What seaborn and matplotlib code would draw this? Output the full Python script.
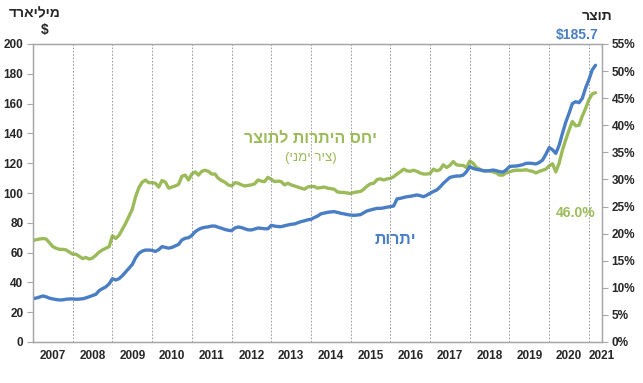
import numpy as np
import pandas as pd
import matplotlib
matplotlib.use("Agg")
import matplotlib.pyplot as plt
import seaborn as sns

# ---- data (monthly, Jan 2007 - Mar 2021) ----
start_year = 2007
reserves_bn = [
    29.1, 29.5, 30.2, 30.9, 30.3, 29.4, 28.9, 28.5, 28.2, 28.3, 28.7, 28.9,
    28.9, 28.7, 28.8, 29.0, 29.6, 30.4, 31.2, 32.0, 34.5, 35.8, 37.0, 39.0,
    42.5, 41.6, 42.5, 44.5, 47.0, 49.5, 52.0, 56.5, 59.5, 61.0, 61.7, 61.7,
    61.5, 60.8, 62.0, 64.0, 63.5, 63.0, 63.5, 64.5, 65.5, 68.5, 69.6, 70.0,
    71.5, 74.0, 75.5, 76.5, 77.0, 77.3, 77.8, 77.8, 77.0, 76.3, 75.5, 75.0,
    74.7, 76.5, 77.2, 76.8, 76.0, 75.3, 75.2, 75.8, 76.5, 76.3, 76.0, 76.0,
    78.3, 77.8, 77.5, 77.4, 78.0, 78.5, 79.0, 79.2, 80.0, 80.8, 81.3, 82.0,
    82.3, 83.5, 84.5, 86.0, 86.5, 87.0, 87.3, 87.5, 87.0, 86.4, 86.0, 85.5,
    85.2, 85.0, 85.2, 85.5, 86.8, 88.0, 88.6, 89.2, 89.7, 89.7, 90.0, 90.5,
    90.8, 91.3, 96.0, 96.4, 97.0, 97.5, 97.8, 98.2, 98.7, 98.2, 97.5, 98.5,
    99.8, 101.0, 102.0, 104.0, 106.5, 108.5, 110.5, 111.0, 111.4, 111.4, 112.0, 114.3,
    117.7, 116.5, 115.9, 115.5, 115.0, 114.8, 115.0, 115.4, 115.0, 114.3, 114.0, 115.5,
    117.7, 118.0, 118.1, 118.5, 119.0, 119.9, 120.0, 119.8, 119.5, 120.5, 122.1, 126.0,
    130.5, 129.0, 126.6, 132.0, 140.0, 147.5, 153.5, 160.0, 161.3, 160.6, 163.5, 170.5,
    176.0, 182.6, 185.7,
]
ratio_pct = [
    18.7, 18.9, 19.0, 19.1, 19.0, 18.3, 17.6, 17.3, 17.1, 17.1, 17.0, 16.6,
    16.2, 16.2, 15.8, 15.4, 15.6, 15.3, 15.5, 16.0, 16.6, 17.0, 17.3, 17.6,
    19.6, 19.1, 19.7, 20.8, 21.9, 23.2, 24.5, 26.8, 28.5, 29.5, 29.9, 29.4,
    29.4, 29.3, 28.6, 29.8, 29.5, 28.4, 28.6, 28.8, 29.1, 30.6, 30.8, 29.9,
    31.0, 31.4, 30.8, 31.5, 31.7, 31.5, 31.0, 31.0, 30.2, 29.8, 29.5, 29.0,
    28.8, 29.4, 29.3, 29.0, 28.8, 28.9, 29.0, 29.2, 29.9, 29.7, 29.6, 30.4,
    30.0, 29.6, 29.7, 29.6, 29.0, 29.3, 29.0, 28.8, 28.6, 28.4, 28.2, 28.6,
    28.7, 28.7, 28.4, 28.5, 28.6, 28.4, 28.3, 28.2, 27.7, 27.6, 27.6, 27.5,
    27.4, 27.6, 27.7, 27.8, 28.2, 28.8, 29.2, 29.3, 30.0, 30.1, 29.9, 30.1,
    30.2, 30.5, 31.0, 31.4, 31.9, 31.6, 31.5, 31.7, 31.5, 31.2, 31.0, 31.0,
    31.1, 31.9, 31.6, 31.8, 32.7, 32.2, 32.6, 33.3, 32.7, 32.6, 32.6, 32.2,
    33.4, 33.0, 32.2, 31.9, 31.6, 31.6, 31.6, 31.4, 31.2, 30.8, 30.8, 31.2,
    31.4, 31.6, 31.7, 31.7, 31.7, 31.8, 31.6, 31.5, 31.2, 31.5, 31.7, 31.9,
    32.5, 32.9, 31.4, 33.0, 35.4, 37.3, 39.1, 40.7, 39.9, 40.0, 41.7, 43.1,
    44.7, 45.8, 46.0,
]
years = list(range(2007, 2022))
left_ticks = list(range(0, 201, 20))
right_ticks = list(range(0, 56, 5))

label_units_left = ["מיליארד", "$"]
label_units_right = "תוצר"
label_ratio = "יחס היתרות לתוצר"
label_ratio_sub = "(ציר ימני)"
label_reserves = "יתרות"
label_last_res = "$185.7"
label_last_ratio = "46.0%"


def rtl(s):
    mirror = {"(": ")", ")": "("}
    return "".join(mirror.get(c, c) for c in s[::-1])


n = len(reserves_bn)
t = [start_year + i / 12 for i in range(n)]
df = pd.DataFrame({"t": t, "reserves": reserves_bn, "ratio": ratio_pct})

BLUE = "#4a7ec4"
GREEN = "#9bbb59"
AXC = "#a6a6a6"
FAM = ["Liberation Sans", "DejaVu Sans"]

sns.set_style("white")
plt.rcParams["font.family"] = FAM

fig = plt.figure(figsize=(6.43, 3.83), dpi=100)
ax = fig.add_axes([33 / 643, 1 - 342 / 383, (602 - 33) / 643, (342 - 44) / 383])
ax2 = ax.twinx()

xmax = start_year + 170.7 / 12
sns.lineplot(data=df, x="t", y="ratio", ax=ax2, color=GREEN, linewidth=2.4)
sns.lineplot(data=df, x="t", y="reserves", ax=ax, color=BLUE, linewidth=2.4)
ax.set_zorder(ax2.get_zorder() + 1)
ax.patch.set_visible(False)

ax.set_xlim(start_year, xmax)
ax.set_ylim(0, 200)
ax2.set_ylim(0, 55)

for y in years[1:]:
    ax.axvline(y, color="#8c8c8c", linewidth=0.6, linestyle=(0, (2, 2)), zorder=0)

ax.set_xticks(years)
ax.set_xticklabels([])
ax.set_xticks([y + 0.5 for y in years[:-1]] + [2021.33], minor=True)
ax.set_xticklabels([str(y) for y in years], minor=True)
ax.tick_params(axis="x", which="minor", length=0, pad=6, labelsize=8.5)
ax.tick_params(axis="x", which="major", length=4, direction="inout", color=AXC)
for lab in ax.get_xticklabels(minor=True):
    lab.set_fontweight("bold")
    lab.set_clip_on(False)

ax.set_yticks(left_ticks)
ax.set_yticklabels([str(v) for v in left_ticks], fontweight="bold", fontsize=8.5)
ax.tick_params(axis="y", length=4, direction="out", color=AXC, pad=3)
ax2.set_yticks(right_ticks)
ax2.set_yticklabels([f"{v}%" for v in right_ticks], fontweight="bold", fontsize=8.5)
ax2.tick_params(axis="y", length=4, direction="out", color=AXC, pad=3)

ax.set_xlabel("")
ax.set_ylabel("")
ax2.set_ylabel("")
for a in (ax, ax2):
    for s in a.spines.values():
        s.set_color(AXC)
        s.set_linewidth(0.9)

fig.text(35 / 643, 1 - 13 / 383, rtl(label_units_left[0]), ha="center", va="center",
         fontsize=10, fontweight="bold")
fig.text(45 / 643, 1 - 30 / 383, label_units_left[1], ha="center", va="center",
         fontsize=10, fontweight="bold")
fig.text(597 / 643, 1 - 16 / 383, rtl(label_units_right), ha="center", va="center",
         fontsize=10, fontweight="bold")

ax.text(311 / 643, 1 - 138 / 383, rtl(label_ratio), transform=fig.transFigure,
        ha="center", va="center", fontsize=11.5, fontweight="bold", color=GREEN)
ax.text(311 / 643, 1 - 158 / 383, rtl(label_ratio_sub), transform=fig.transFigure,
        ha="center", va="center", fontsize=9.5, color=GREEN)
ax.text(395 / 643, 1 - 239 / 383, rtl(label_reserves), transform=fig.transFigure,
        ha="center", va="center", fontsize=11.5, fontweight="bold", color=BLUE)
ax.text(577 / 643, 1 - 35 / 383, label_last_res, transform=fig.transFigure,
        ha="center", va="center", fontsize=10, fontweight="bold", color=BLUE)
ax.text(576 / 643, 1 - 213 / 383, label_last_ratio, transform=fig.transFigure,
        ha="center", va="center", fontsize=10, fontweight="bold", color=GREEN)

fig.savefig("out.png", dpi=100, facecolor="white")
